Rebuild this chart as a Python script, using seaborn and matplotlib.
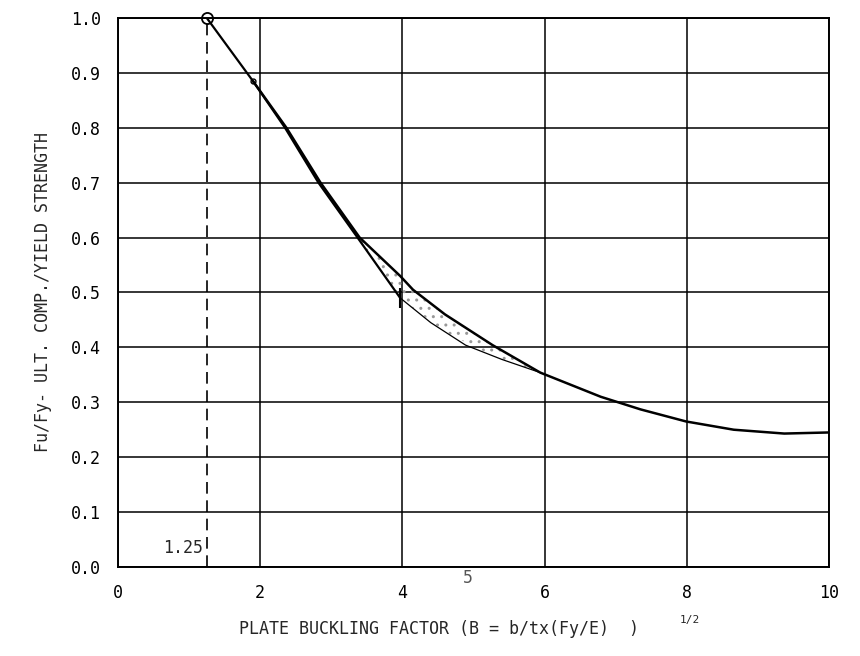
import numpy as np
import pandas as pd
import matplotlib
matplotlib.use("Agg")
import matplotlib.pyplot as plt
import seaborn as sns

# Set seaborn style
sns.set_style("white")
plt.rcParams["font.family"] = ["DejaVu Sans Mono", "DejaVu Sans"]

# ---- DATA ----
# steep branch, from B = 1.25 down to B = 4
steep_x = [1.25, 1.9, 2.35, 2.82, 3.37, 3.97]
steep_y = [1.0, 0.885, 0.80, 0.70, 0.60, 0.49]

# main curve, from B = 1.9 out to B = 10
main_x = [1.9, 2.37, 2.85, 3.40, 3.97, 4.15, 4.6, 5.27, 5.94, 6.79, 7.35, 7.99, 8.66, 9.37, 10.0]
main_y = [0.885, 0.80, 0.70, 0.60, 0.53, 0.505, 0.46, 0.404, 0.354, 0.31, 0.287, 0.265, 0.25, 0.243, 0.245]

# thin connecting line after the steep branch
link_x = [3.97, 4.4, 4.89, 5.4, 5.94]
link_y = [0.49, 0.445, 0.404, 0.378, 0.354]

x_ticks = [0, 2, 4, 6, 8, 10]
y_ticks = [0.0, 0.1, 0.2, 0.3, 0.4, 0.5, 0.6, 0.7, 0.8, 0.9, 1.0]
b_limit = 1.25

main_df = pd.DataFrame({"B": main_x, "ratio": main_y})
steep_df = pd.DataFrame({"B": steep_x, "ratio": steep_y})
link_df = pd.DataFrame({"B": link_x, "ratio": link_y})

# ----- PLOT -----
fig = plt.figure(figsize=(8.6, 6.56), dpi=100)
ax = fig.add_axes([0.137, 0.1357, 0.827, 0.837])

ax.set_xlim(0, 10)
ax.set_ylim(0, 1.0)
ax.set_xticks(x_ticks)
ax.set_yticks(y_ticks)
ax.set_xticklabels([str(t) for t in x_ticks])
ax.set_yticklabels([f"{t:.1f}" for t in y_ticks])
ax.grid(True, color="black", linewidth=1.1)
for s in ax.spines.values():
    s.set_color("black")
    s.set_linewidth(1.4)
ax.tick_params(length=0, labelsize=12, pad=12, colors="black")

# shaded band between the two branches
band_x = np.array(main_x[3:9])
lower = np.interp(band_x, steep_x + link_x[1:], steep_y + link_y[1:])
ax.fill_between(band_x, lower, main_y[3:9], facecolor="none", edgecolor="#999999",
                hatch="..", linewidth=0)

sns.lineplot(data=main_df, x="B", y="ratio", ax=ax, color="black", linewidth=1.8, sort=False)
sns.lineplot(data=steep_df, x="B", y="ratio", ax=ax, color="black", linewidth=1.6, sort=False)
sns.lineplot(data=link_df, x="B", y="ratio", ax=ax, color="black", linewidth=0.9, sort=False)

# markers
ax.plot([b_limit], [1.0], marker="o", markersize=8, markerfacecolor="none",
        markeredgecolor="black", markeredgewidth=1.3, clip_on=False)
ax.plot([main_x[0]], [main_y[0]], marker="o", markersize=3.5, markerfacecolor="none",
        markeredgecolor="black", markeredgewidth=1)
ax.plot([steep_x[-1]], [steep_y[-1]], marker="|", markersize=14, color="black", markeredgewidth=1.5)

# dashed limit line at B = 1.25
ax.plot([b_limit, b_limit], [0, 1.0], color="black", linewidth=1.2, dashes=(7, 4))
ax.text(b_limit - 0.05, 0.035, "1.25", ha="right", va="center", fontsize=12)

# handwritten note under the axis
ax.text(4.92, -0.02, "5", ha="center", va="center", fontsize=12, color="#555555",
        clip_on=False)

ax.set_xlabel("")
ax.set_ylabel("Fu/Fy- ULT. COMP./YIELD STRENGTH", fontsize=12, labelpad=14)
fig.text(0.51, 0.028, "PLATE BUCKLING FACTOR (B = b/tx(Fy/E)  )", ha="center",
         va="bottom", fontsize=12)
fig.text(0.802, 0.048, "1/2", ha="center", va="bottom", fontsize=8)

fig.savefig("out.png", dpi=100, facecolor="white")
